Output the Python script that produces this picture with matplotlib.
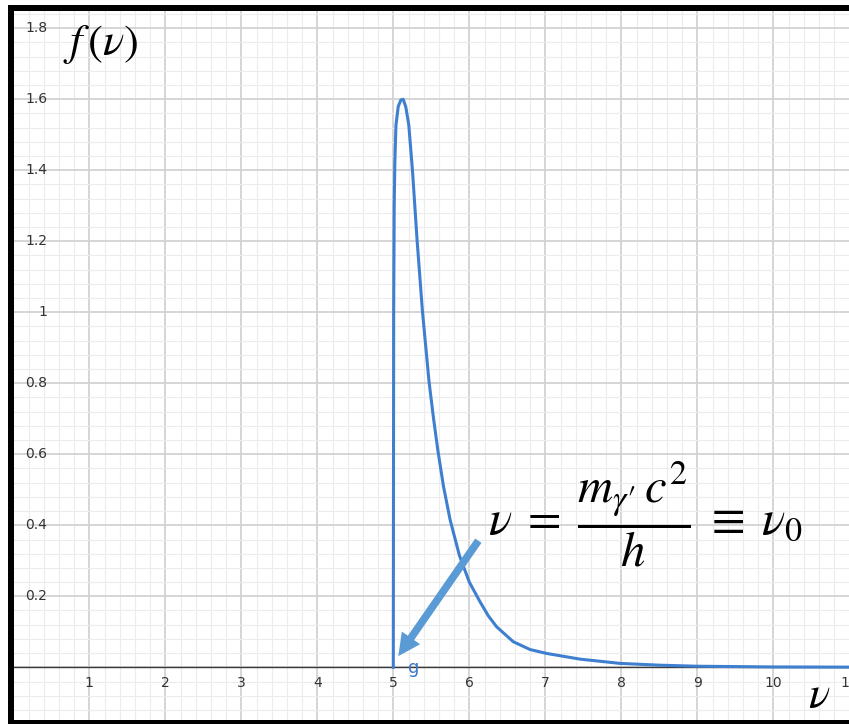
import numpy as np
import matplotlib
matplotlib.use("Agg")
import matplotlib.pyplot as plt
from matplotlib.patches import Rectangle, FancyArrowPatch

plt.rcParams["mathtext.fontset"] = "stix"

# Spectrum f(nu): sharp onset at nu0 = 5, narrow peak, long tail
nu = [5.0, 5.005, 5.012, 5.02, 5.035, 5.065, 5.10, 5.13, 5.165, 5.204,
      5.252, 5.313, 5.383, 5.47, 5.53, 5.587, 5.66, 5.748, 5.87, 6.0,
      6.14, 6.25, 6.36, 6.579, 6.8, 7.018, 7.457, 7.983, 8.5, 9.0,
      10.0, 11.0]
f_nu = [0.0, 1.0, 1.3, 1.42, 1.527, 1.58, 1.598, 1.600, 1.578, 1.527,
        1.40, 1.203, 1.004, 0.805, 0.70, 0.61, 0.51, 0.415, 0.315, 0.24,
        0.185, 0.145, 0.114, 0.072, 0.05, 0.039, 0.023, 0.011, 0.006, 0.003,
        0.001, 0.0005]

x_ticks = [1, 2, 3, 4, 5, 6, 7, 8, 9, 10, 11]
y_ticks = [0.2, 0.4, 0.6, 0.8, 1.0, 1.2, 1.4, 1.6, 1.8]

# arrow pointing down to the onset frequency
arrow_from = (6.14, 0.363)
arrow_to = (5.045, 0.025)

W, H = 849, 724
fig = plt.figure(figsize=(W / 100, H / 100), dpi=100)

# pixel layout of the graphics view
X0_PX, UNIT_X = 13.3, 76.0
Y0_PX, UNIT_Y = 667.3, 355.0
left_px, top_px = 8, 5
ax = fig.add_axes([left_px / W, 0, 1 - left_px / W, 1 - top_px / H])

for s in ax.spines.values():
    s.set_visible(False)

ax.set_xticks(np.arange(0, 12, 1))
ax.set_xticks(np.arange(0, 11.01, 0.2), minor=True)
ax.set_yticks(np.arange(-0.2, 2.0, 0.2))
ax.set_yticks(np.arange(-0.2, 1.9, 0.04), minor=True)
ax.tick_params(which="both", length=0, labelbottom=False, labelleft=False)
ax.grid(which="major", color="#d2d2d2", lw=1.3)
ax.grid(which="minor", color="#ececec", lw=0.8)
ax.set_axisbelow(True)
# limits after the ticks, otherwise set_xticks widens them
ax.set_xlim((left_px - X0_PX) / UNIT_X, (W - X0_PX) / UNIT_X)
ax.set_ylim(-(H - Y0_PX) / UNIT_Y, (Y0_PX - top_px) / UNIT_Y)

ax.axhline(0, color="#3a3a3a", lw=1.0, zorder=2)

# axis numbers drawn inside the view
for v in x_ticks:
    ax.text(v, -0.045, str(v), ha="center", va="center", fontsize=10,
            color="#333333", family="DejaVu Sans", zorder=3, clip_on=False)
for v in y_ticks:
    lab = "1" if v == 1.0 else f"{v:g}"
    ax.text(0.45, v, lab, ha="right", va="center", fontsize=10,
            color="#333333", family="DejaVu Sans", zorder=3)

ax.plot(nu, f_nu, color="#3f7fcf", lw=2.2, solid_joinstyle="round", zorder=4)
ax.text(5.19, -0.002, "g", color="#3a78c8", fontsize=13, ha="left",
        va="center", family="DejaVu Sans", zorder=4)

arr = FancyArrowPatch(arrow_from, arrow_to,
                      arrowstyle="simple,tail_width=0.55,head_width=1.6,head_length=1.6",
                      mutation_scale=10, color="#5b9bd5", lw=0, zorder=5)
ax.add_patch(arr)

ax.text(6.25, 0.432,
        r"$\nu\;=\;\dfrac{m_{\gamma\prime}\,c^2}{h}\;\equiv\;\nu_0$",
        fontsize=35, ha="left", va="center", color="black", zorder=6)
ax.text(0.65, 1.755, r"$f\,(\nu)$", fontsize=32, ha="left", va="center", zorder=6)
ax.text(10.6, -0.08, r"$\nu$", fontsize=32, ha="center", va="center", zorder=6)

# black frame: left, top, bottom
def px_rect(x, y, w, h):
    fig.add_artist(Rectangle((x / W, 1 - (y + h) / H), w / W, h / H,
                             transform=fig.transFigure, color="black",
                             lw=0, zorder=10))

px_rect(8, 5, 6, H - 5)
px_rect(8, 5, W - 8, 6)
px_rect(8, 720, W - 8, 4)

fig.savefig("out.png", dpi=100)
